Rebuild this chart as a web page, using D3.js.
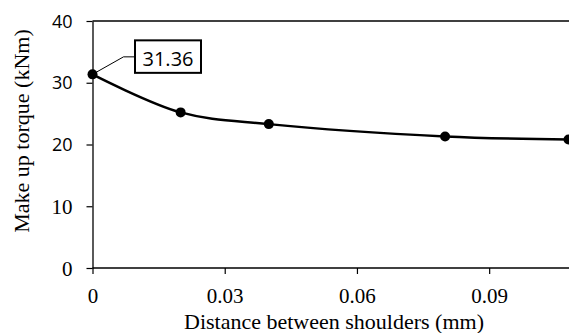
<!DOCTYPE html>
<html>
<head>
<meta charset="utf-8">
<script src="https://cdn.jsdelivr.net/npm/d3@7"></script>
<style>
  body { margin: 0; background: #fff; }
  svg { display: block; }
</style>
</head>
<body>
<svg></svg>
<script>
// data
const distance = [0, 0.02, 0.04, 0.08, 0.108];
const torque = [31.36, 25.2, 23.3, 21.3, 20.8];
const xTicks = [0, 0.03, 0.06, 0.09];
const xTickLabels = ["0", "0.03", "0.06", "0.09"];
const yTicks = [0, 10, 20, 30, 40];
const peakLabel = "31.36";

const size = { w: 569, h: 333 };
const margin = { t: 21, r: 0.5, b: 65, l: 92.5 };
const serif = "Liberation Serif, Times New Roman, serif";
const sans = "Open Sans, Liberation Sans, sans-serif";

const svg = d3.select("svg").attr("width", size.w).attr("height", size.h);

const x = d3.scaleLinear().domain([0, 0.108]).range([margin.l, size.w - margin.r]);
const y = d3.scaleLinear().domain([0, 40]).range([size.h - margin.b, margin.t]);

// top border of the plot area
svg.append("line")
  .attr("x1", margin.l).attr("x2", size.w)
  .attr("y1", y(40)).attr("y2", y(40))
  .attr("stroke", "#000").attr("stroke-width", 1.3);

// axes
const xAxis = svg.append("g")
  .attr("transform", `translate(0,${y(0)})`)
  .call(d3.axisBottom(x).tickValues(xTicks).tickSize(6).tickSizeOuter(0)
    .tickFormat((d, i) => xTickLabels[i]));
const yAxis = svg.append("g")
  .attr("transform", `translate(${x(0)},0)`)
  .call(d3.axisLeft(y).tickValues(yTicks).tickSize(6).tickSizeOuter(0));

[xAxis, yAxis].forEach(g => {
  g.attr("font-family", serif);
  g.select(".domain").attr("stroke", "#000").attr("stroke-width", 1.3);
  g.selectAll(".tick line").attr("stroke", "#000").attr("stroke-width", 1.2);
  g.selectAll("text").attr("fill", "#000");
});
xAxis.select(".domain").attr("d", `M${x(0)},0H${size.w}`);
xAxis.selectAll("text")
  .attr("font-family", serif).attr("font-size", 21)
  .attr("dy", null).attr("y", 35);
yAxis.selectAll("text")
  .attr("font-family", d => d >= 20 ? sans : serif)
  .attr("font-size", d => d >= 20 ? 18 : 21)
  .attr("dy", "0.34em")
  .attr("x", -20);

// axis titles
svg.append("text")
  .attr("x", 334).attr("y", 329)
  .attr("text-anchor", "middle")
  .attr("font-family", serif).attr("font-size", 22)
  .text("Distance between shoulders (mm)");
svg.append("text")
  .attr("transform", "translate(29,131) rotate(-90)")
  .attr("text-anchor", "middle")
  .attr("font-family", serif).attr("font-size", 22)
  .text("Make up torque (kNm)");

// smoothed line
const pts = distance.map((d, i) => [d, torque[i]]);
const line = d3.line()
  .x(d => x(d[0]))
  .y(d => y(d[1]))
  .curve(d3.curveCatmullRom.alpha(0.5));

svg.append("path")
  .datum(pts)
  .attr("d", line)
  .attr("fill", "none")
  .attr("stroke", "#000")
  .attr("stroke-width", 2.5);

svg.selectAll("circle")
  .data(pts)
  .join("circle")
  .attr("cx", d => x(d[0]))
  .attr("cy", d => y(d[1]))
  .attr("r", 5)
  .attr("fill", "#000");

// callout for the first point
const px = x(distance[0]), py = y(torque[0]);
const boxX = px + 42.5, boxY = py - 34;
svg.append("path")
  .attr("d", `M${px},${py}L${px + 31},${py - 17.5}H${boxX}`)
  .attr("fill", "none").attr("stroke", "#000").attr("stroke-width", 1);
svg.append("rect")
  .attr("x", boxX).attr("y", boxY)
  .attr("width", 66).attr("height", 32.5)
  .attr("fill", "#fff").attr("stroke", "#000").attr("stroke-width", 2);
svg.append("text")
  .attr("x", boxX + 33).attr("y", boxY + 25.5)
  .attr("text-anchor", "middle")
  .attr("font-family", sans).attr("font-size", 20)
  .text(peakLabel);
</script>
</body>
</html>
